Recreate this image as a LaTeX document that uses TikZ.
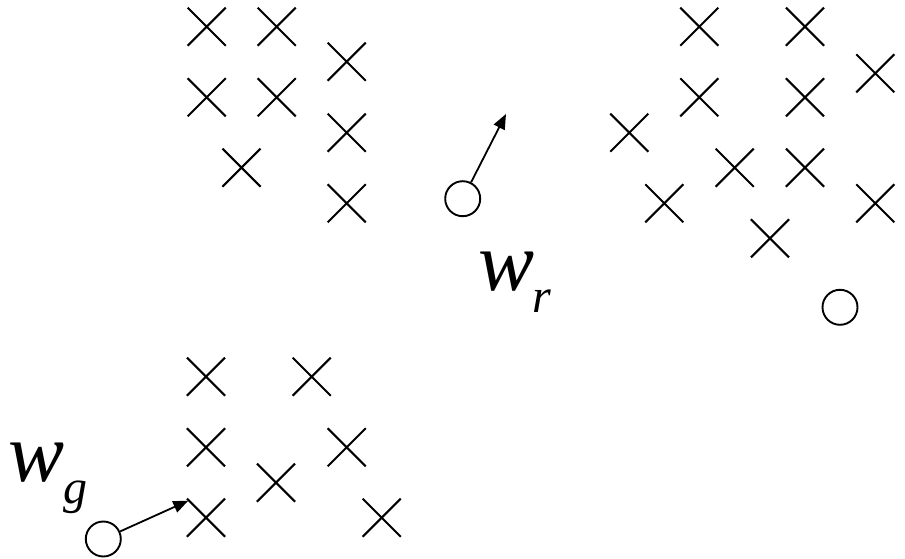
\documentclass[tikz,border=0pt]{standalone}
\usepackage{fontspec}
\setmainfont{Liberation Serif}[ItalicFont={Liberation Serif Italic}]
\usetikzlibrary{shapes.misc,arrows.meta}
\newcommand{\subtxt}[1]{\raisebox{-22pt}{\fontsize{48}{48}\selectfont #1}}
\begin{document}
\begin{tikzpicture}[x=1pt,y=-1pt,
  pt/.style={cross out,draw=black,line width=2.1pt,minimum size=36pt,inner sep=0pt},
  ctr/.style={circle,draw=black,line width=1.9pt,minimum size=35pt,inner sep=0pt,fill=white},
  arr/.style={line width=1.8pt,-{Triangle[length=15pt,width=12pt]}},
  lbl/.style={inner sep=0pt,anchor=base west,font=\fontsize{84}{84}\selectfont\itshape}]
\useasboundingbox (0,0) rectangle (905,559);
% top-left cluster
\node[pt] (a1) at (206.7,26.7) {};
\node[pt] (a2) at (276.7,26.7) {};
\node[pt] (a3) at (346.7,61.7) {};
\node[pt] (a4) at (206.7,97.3) {};
\node[pt] (a5) at (276.7,97.3) {};
\node[pt] (a6) at (346.7,132.7) {};
\node[pt] (a7) at (241.5,167.7) {};
\node[pt] (a8) at (346.7,203.3) {};
% top-right cluster
\node[pt] (b1) at (699.3,26.7) {};
\node[pt] (b2) at (805,26.7) {};
\node[pt] (b3) at (875.3,73.3) {};
\node[pt] (b4) at (699.3,97.3) {};
\node[pt] (b5) at (805,97.3) {};
\node[pt] (b6) at (629.3,132.7) {};
\node[pt] (b7) at (734.7,167.7) {};
\node[pt] (b8) at (805,167.7) {};
\node[pt] (b9) at (664.3,203.3) {};
\node[pt] (b10) at (875.3,203.3) {};
\node[pt] (b11) at (770,238.3) {};
% bottom-left cluster
\node[pt] (c1) at (206,376.7) {};
\node[pt] (c2) at (311.7,376.7) {};
\node[pt] (c3) at (206,447.3) {};
\node[pt] (c4) at (346.7,447.3) {};
\node[pt] (c5) at (276,482.7) {};
\node[pt] (c6) at (206,517.7) {};
\node[pt] (c7) at (381.7,517.7) {};
% centres
\node[ctr] (wr) at (462.7,198.7) {};
\node[ctr] (wk) at (840,307.3) {};
\node[ctr] (wg) at (103.3,539) {};
\coordinate (tr) at (506,114);
\coordinate (tg) at (188.3,500.7);
\draw[arr] (wr) -- (tr);
\draw[arr] (wg) -- (tg);
% labels
\node[lbl] (lwr) at (478,290) {w\kern-2pt\subtxt{r}};
\node[lbl] (lwg) at (8,481.7) {w\kern-1pt\subtxt{g}};
\end{tikzpicture}
\end{document}
